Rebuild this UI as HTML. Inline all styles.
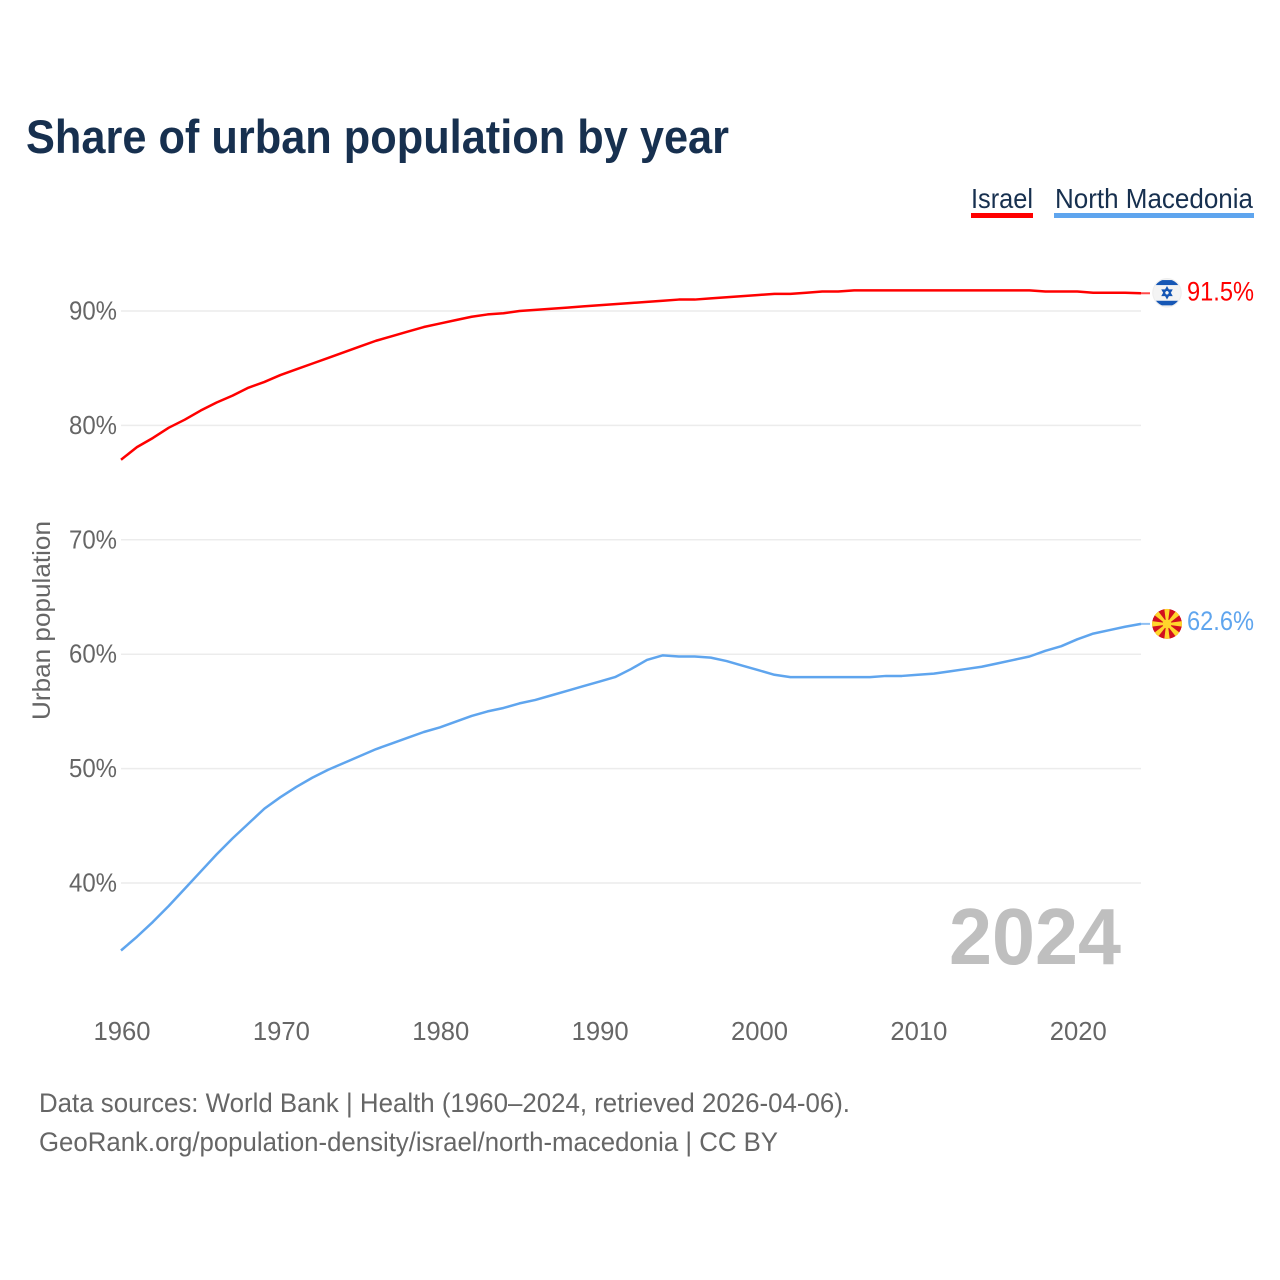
<!DOCTYPE html>
<html lang="en">
<head>
<meta charset="utf-8">
<title>Share of urban population by year</title>
<style>
html,body{margin:0;padding:0;background:#fff;}
svg{display:block;font-family:"Liberation Sans",sans-serif;}
</style>
</head>
<body>
<svg id="chart" xmlns="http://www.w3.org/2000/svg" width="1280" height="1280" viewBox="0 0 1280 1280">
  <defs>
    <clipPath id="il-clip"><circle cx="0" cy="0" r="13.6"/></clipPath>
    <clipPath id="mk-clip"><circle cx="0" cy="0" r="15"/></clipPath>
  </defs>
  <rect x="0" y="0" width="1280" height="1280" fill="#ffffff"/>
  <text x="26" y="153" font-size="47" font-weight="700" fill="#17304f" textLength="703" lengthAdjust="spacingAndGlyphs">Share of urban population by year</text>

  <g>
    <g>
      <text x="971" y="208" font-size="28" fill="#17304f" textLength="62" lengthAdjust="spacingAndGlyphs">Israel</text>
      <rect x="971" y="213" width="62" height="5" fill="#ff0000"/>
    </g>
    <g>
      <text x="1055" y="208" font-size="28" fill="#17304f" textLength="198" lengthAdjust="spacingAndGlyphs">North Macedonia</text>
      <rect x="1054" y="213" width="200" height="5" fill="#5fa5ee"/>
    </g>
  </g>

  <text transform="translate(50,720) rotate(-90)" font-size="25" fill="#666666" textLength="199" lengthAdjust="spacingAndGlyphs">Urban population</text>

  <g id="grid"></g>
  <g id="y-ticks"></g>
  <g id="x-ticks"></g>

  <text x="949" y="964" font-size="80" font-weight="700" fill="#bfbfbf" textLength="172" lengthAdjust="spacingAndGlyphs">2024</text>

  <g id="series"></g>
  <g id="end-markers"></g>

  <text x="39" y="1112" font-size="27" fill="#666666" textLength="811" lengthAdjust="spacingAndGlyphs">Data sources: World Bank | Health (1960–2024, retrieved 2026-04-06).</text>
  <text x="39" y="1151" font-size="27" fill="#666666" textLength="739" lengthAdjust="spacingAndGlyphs">GeoRank.org/population-density/israel/north-macedonia | CC BY</text>
</svg>
<script>
const startYear = 1960;
const xTickYears = [1960, 1970, 1980, 1990, 2000, 2010, 2020];
const yTickValues = [40, 50, 60, 70, 80, 90];
const israelValues = [77.0, 78.1, 78.9, 79.8, 80.5, 81.3, 82.0, 82.6, 83.3, 83.8,
  84.4, 84.9, 85.4, 85.9, 86.4, 86.9, 87.4, 87.8, 88.2, 88.6,
  88.9, 89.2, 89.5, 89.7, 89.8, 90.0, 90.1, 90.2, 90.3, 90.4,
  90.5, 90.6, 90.7, 90.8, 90.9, 91.0, 91.0, 91.1, 91.2, 91.3,
  91.4, 91.5, 91.5, 91.6, 91.7, 91.7, 91.8, 91.8, 91.8, 91.8,
  91.8, 91.8, 91.8, 91.8, 91.8, 91.8, 91.8, 91.8, 91.7, 91.7,
  91.7, 91.6, 91.6, 91.6, 91.55];
const macedoniaValues = [34.1, 35.3, 36.6, 38.0, 39.5, 41.0, 42.5, 43.9, 45.2, 46.5,
  47.5, 48.4, 49.2, 49.9, 50.5, 51.1, 51.7, 52.2, 52.7, 53.2,
  53.6, 54.1, 54.6, 55.0, 55.3, 55.7, 56.0, 56.4, 56.8, 57.2,
  57.6, 58.0, 58.7, 59.5, 59.9, 59.8, 59.8, 59.7, 59.4, 59.0,
  58.6, 58.2, 58.0, 58.0, 58.0, 58.0, 58.0, 58.0, 58.1, 58.1,
  58.2, 58.3, 58.5, 58.7, 58.9, 59.2, 59.5, 59.8, 60.3, 60.7,
  61.3, 61.8, 62.1, 62.4, 62.65];
const israelLabel = "91.5%";
const macedoniaLabel = "62.6%";

const NS = "http://www.w3.org/2000/svg";
function xScale(year) { return 121 + (year - 1960) * (1020 / 64); }
function yScale(value) { return 311 + (90 - value) * 11.44; }
function make(tag, parent, attrs) {
  const el = document.createElementNS(NS, tag);
  for (const k in attrs) el.setAttribute(k, attrs[k]);
  parent.appendChild(el);
  return el;
}
const grid = document.getElementById("grid");
const yTicks = document.getElementById("y-ticks");
const xTicks = document.getElementById("x-ticks");
const seriesGroup = document.getElementById("series");
const markers = document.getElementById("end-markers");

yTickValues.forEach(function (v) {
  const line = make("line", grid, { x1: 121, x2: 1141, y1: yScale(v), y2: yScale(v), stroke: "#ececec", "stroke-width": 1.5 });
  
  
  const t = make("text", yTicks, { x: 117, y: yScale(v) + 8.5, "font-size": 26, fill: "#666666", "text-anchor": "end", textLength: 48, lengthAdjust: "spacingAndGlyphs" });
  
  
  t.textContent = v + "%";
});

xTickYears.forEach(function (y) {
  const t = make("text", xTicks, { x: xScale(y) + 1, y: 1040, "font-size": 26, fill: "#666666", "text-anchor": "middle", textLength: 57, lengthAdjust: "spacingAndGlyphs" });
  
  
  t.textContent = y;
});

function pathFor(values) {
  return values.map(function (v, i) {
    return (i ? "L" : "M") + xScale(startYear + i).toFixed(2) + " " + yScale(v).toFixed(2);
  }).join(" ");
}

const israelLine = make("path", seriesGroup, { d: pathFor(israelValues), fill: "none", stroke: "#ff0000", "stroke-width": 2.5, "stroke-linejoin": "round" });


const macedoniaLine = make("path", seriesGroup, { d: pathFor(macedoniaValues), fill: "none", stroke: "#5fa5ee", "stroke-width": 2.5, "stroke-linejoin": "round" });



const lastX = xScale(startYear + israelValues.length - 1);
const israelY = yScale(israelValues[israelValues.length - 1]);
const macedoniaY = yScale(macedoniaValues[macedoniaValues.length - 1]);

const israelStub = make("line", markers, { x1: lastX, x2: lastX + 9, y1: israelY, y2: israelY, stroke: "#ff0000", "stroke-width": 2, opacity: 0.7 });


const macedoniaStub = make("line", markers, { x1: lastX, x2: lastX + 9, y1: macedoniaY, y2: macedoniaY, stroke: "#5fa5ee", "stroke-width": 2, opacity: 0.7 });



/* Israel flag */
const ilFlag = make("g", markers, { transform: "translate(1167," + (israelY - 0.5) + ")" });


make("circle", ilFlag, { r: 14.8, fill: "#eeeeee" });
const ilInner = make("g", ilFlag, { "clip-path": "url(#il-clip)" });
make("rect", ilInner, { x: -15, y: -15, width: 30, height: 30, fill: "#f4f4f4" });
make("rect", ilInner, { x: -15, y: -12.7, width: 30, height: 5, fill: "#1657b5" });
make("rect", ilInner, { x: -15, y: 8, width: 30, height: 4.6, fill: "#1657b5" });
make("path", ilFlag, { d: "M0 -5 L4.3 2.5 L-4.3 2.5 Z M0 5 L4.3 -2.5 L-4.3 -2.5 Z", fill: "none", stroke: "#1657b5", "stroke-width": 1.7 });

/* North Macedonia flag */
const mkFlag = make("g", markers, { transform: "translate(1167," + macedoniaY + ")" });


const mkInner = make("g", mkFlag, { "clip-path": "url(#mk-clip)" });
make("circle", mkInner, { r: 15, fill: "#d20f1e" });
[0, 45, 90, 135, 180, 225, 270, 315].forEach(function (a) {
  make("path", mkInner, { d: "M-0.8 0 L0.8 0 L2.7 -15 L-2.7 -15 Z", fill: "#ffd52c", transform: "rotate(" + a + ")" });
});
make("circle", mkFlag, { r: 4.4, fill: "#ffd52c" });

const ilText = make("text", markers, { x: 1187, y: israelY + 7, "font-size": 27, fill: "#ff0000", textLength: 67, lengthAdjust: "spacingAndGlyphs" });


ilText.textContent = israelLabel;
const mkText = make("text", markers, { x: 1187, y: macedoniaY + 6, "font-size": 27, fill: "#5fa5ee", textLength: 67, lengthAdjust: "spacingAndGlyphs" });


mkText.textContent = macedoniaLabel;
</script>
</body>
</html>
